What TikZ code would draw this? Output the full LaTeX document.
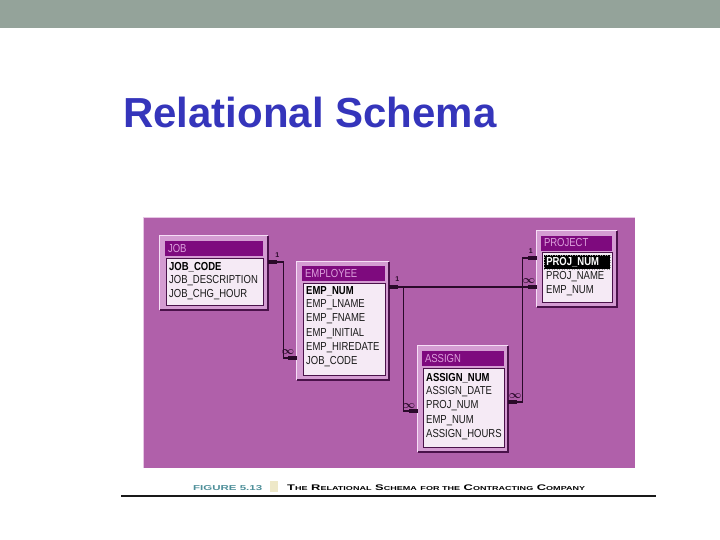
\documentclass[tikz,border=0pt]{standalone}
\usepackage{fontspec}
\setmainfont{Liberation Sans}
\usetikzlibrary{positioning, calc}
\definecolor{topbar}{HTML}{94A39A}
\definecolor{titleblue}{HTML}{3535BB}
\definecolor{panel}{HTML}{B060AA}
\definecolor{panellt}{HTML}{E6C6E4}
\definecolor{boxpink}{HTML}{D49CD2}
\definecolor{framelt}{HTML}{F6DEF6}
\definecolor{framedk}{HTML}{4A124A}
\definecolor{headpurple}{HTML}{7E0A7E}
\definecolor{headtext}{HTML}{DDA0DD}
\definecolor{bodypink}{HTML}{F5EAF5}
\definecolor{linkdk}{HTML}{2A0A2A}
\definecolor{figteal}{HTML}{4E8F99}
\definecolor{beige}{HTML}{EEE8C8}
\newcommand{\fieldfont}{\fontsize{9.5}{11}\selectfont}
\newcommand{\fld}[1]{\scalebox{1}[1.22]{#1}}

\tikzset{
  tablebox/.style={fill=boxpink, inner sep=0pt},
  tablehead/.style={fill=headpurple, text=headtext, font=\fieldfont, inner xsep=3pt,
    inner ysep=0pt, minimum height=15pt, text width=#1, align=left},
  tablebody/.style={fill=bodypink, draw=framedk, line width=0.8pt, inner sep=0pt},
  field/.style={font=\fieldfont, text=black!90, anchor=west, inner sep=0pt},
  keyfield/.style={field, font=\fieldfont\bfseries, text=black},
  link/.style={linkdk, line width=1.2pt},
  stub/.style={linkdk, line width=3.5pt},
  card/.style={font=\fontsize{7}{8}\selectfont\bfseries\boldmath, text=linkdk, inner sep=0pt}
}

\begin{document}
\begin{tikzpicture}[x=1pt, y=-1pt]
\useasboundingbox (0,0) rectangle (720,540);

% Top bar
\fill[topbar] (0,0) rectangle (720,28);

% Title
\node[font=\fontsize{42}{48}\selectfont\bfseries, text=titleblue, anchor=base west,
      inner sep=0pt] (title) at (123,128) {Relational Schema};

% Panel
\fill[panel] (143,218) rectangle (635,468);
\draw[panellt, line width=1pt] (143,468) |- (635,218);

% Tables
\node[tablebox, minimum width=108pt, minimum height=74pt] (job) at (214,273) {};
\node[tablebox, minimum width=92pt, minimum height=118pt] (emp) at (343,321) {};
\node[tablebox, minimum width=80pt, minimum height=76pt] (proj) at (577,269) {};
\node[tablebox, minimum width=90pt, minimum height=106pt] (asg) at (463,399) {};

% 3D frames
\foreach \t in {job, emp, proj, asg} {
  \draw[framelt, line width=1.2pt] (\t.south west) |- (\t.north east);
  \draw[framedk, line width=1.5pt] (\t.south west) -| (\t.north east);
}

% Headers
\node[tablehead=92pt] (jobhead) at (214,248.5) {\fld{JOB}};
\node[tablehead=77pt] (emphead) at (343.5,273.5) {\fld{EMPLOYEE}};
\node[tablehead=65pt] (projhead) at (576.5,243) {\fld{PROJECT}};
\node[tablehead=76pt] (asghead) at (463,358.5) {\fld{ASSIGN}};

% Field lists
\node[tablebody, minimum width=97pt, minimum height=47pt] (jobbody) at (214.5,281.5) {};
\node[tablebody, minimum width=82pt, minimum height=92pt] (empbody) at (344,329) {};
\node[tablebody, minimum width=70pt, minimum height=50pt] (projbody) at (577,277) {};
\node[tablebody, minimum width=81pt, minimum height=79pt] (asgbody) at (463.5,407.5) {};

% JOB fields
\node[keyfield] (jobcode) at (169,267) {\fld{JOB\_CODE}};
\foreach \n/\txt/\y in {jobdesc/JOB\_DESCRIPTION/281, jobhour/JOB\_CHG\_HOUR/295}
  \node[field] (\n) at (169,\y) {\fld{\txt}};

% EMPLOYEE fields
\node[keyfield] (empnum) at (306,291) {\fld{EMP\_NUM}};
\foreach \n/\txt/\y in {emplname/EMP\_LNAME/305, empfname/EMP\_FNAME/319,
    empinit/EMP\_INITIAL/334, emphire/EMP\_HIREDATE/348, empjob/JOB\_CODE/362}
  \node[field] (\n) at (306,\y) {\fld{\txt}};

% PROJECT fields
\node[keyfield, fill=black, text=white, draw=black!40, dotted, line width=0.5pt,
      text width=62pt, inner xsep=2pt, minimum height=14pt] (projnum) at (544,262) {\fld{PROJ\_NUM}};
\foreach \n/\txt/\y in {projname/PROJ\_NAME/277, projemp/EMP\_NUM/291}
  \node[field] (\n) at (546,\y) {\fld{\txt}};

% ASSIGN fields
\node[keyfield] (asgnum) at (426,378) {\fld{ASSIGN\_NUM}};
\foreach \n/\txt/\y in {asgdate/ASSIGN\_DATE/392, asgproj/PROJ\_NUM/406,
    asgemp/EMP\_NUM/421, asghours/ASSIGN\_HOURS/435}
  \node[field] (\n) at (426,\y) {\fld{\txt}};

% Attachment points
\coordinate (jobR) at (job.east |- 0,262);
\coordinate (empL) at (emp.west |- 0,358);
\coordinate (empR) at (emp.east |- 0,287);
\coordinate (projL) at (proj.west |- 0,287);
\coordinate (projK) at (proj.west |- 0,258);
\coordinate (asgL) at (asg.west |- 0,411);
\coordinate (asgR) at (asg.east |- 0,402);

% Relationships
\draw[link] (jobR) -- ++(15,0) |- (empL);
\draw[link] (empR) -- (projL);
\draw[link] (empR) -- ++(14,0) |- (asgL);
\draw[link] (projK) -- ++(-14,0) |- (asgR);

% Thick ends
\draw[stub] (jobR) -- ++(9,0);
\draw[stub] (empL) -- ++(-9,0);
\draw[stub] (empR) -- ++(9,0);
\draw[stub] (projL) -- ++(-9,0);
\draw[stub] (projK) -- ++(-9,0);
\draw[stub] (asgL) -- ++(-9,0);
\draw[stub] (asgR) -- ++(9,0);

% Cardinalities
\node[card] (c1job) at ($(jobR)+(9,-7)$) {1};
\node[card, font=\fontsize{11}{11}\selectfont\boldmath] (cnemp) at ($(empL)+(-9,-6)$) {$\infty$};
\node[card] (c1emp) at ($(empR)+(8,-8)$) {1};
\node[card, font=\fontsize{11}{11}\selectfont\boldmath] (cnproj) at ($(projL)+(-8,-6)$) {$\infty$};
\node[card] (c1proj) at ($(projK)+(-6,-7)$) {1};
\node[card, font=\fontsize{11}{11}\selectfont\boldmath] (cnasgl) at ($(asgL)+(-9,-5)$) {$\infty$};
\node[card, font=\fontsize{11}{11}\selectfont\boldmath] (cnasgr) at ($(asgR)+(7,-6)$) {$\infty$};

% Caption
\node[anchor=base west, inner sep=0pt, text=figteal] (fignum) at (193,490)
  {\resizebox{69pt}{5pt}{\bfseries FIGURE 5.13}};
\node[fill=beige, minimum width=8pt, minimum height=11pt, inner sep=0pt] (swatch) at (274,486.5) {};
\node[anchor=base west, inner sep=0pt, text=black] (figtitle) at (287,490)
  {\resizebox{298pt}{5.7pt}{\bfseries T{\scriptsize HE} R{\scriptsize ELATIONAL} S{\scriptsize CHEMA}
   {\scriptsize FOR THE} C{\scriptsize ONTRACTING} C{\scriptsize OMPANY}}};
\draw[black!90, line width=2pt] (121,496) -- (656,496);

\end{tikzpicture}
\end{document}
